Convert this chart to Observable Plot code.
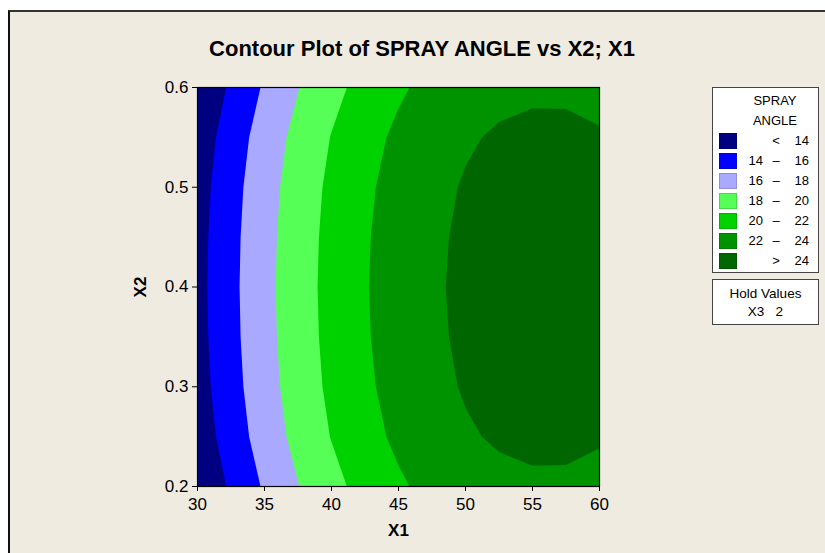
<!DOCTYPE html>
<html>
<head>
<meta charset="utf-8">
<script src="https://cdn.jsdelivr.net/npm/d3@7"></script>
<script src="https://cdn.jsdelivr.net/npm/@observablehq/plot@0.6"></script>
<style>
  body { margin: 0; background: #ffffff; }
  #page { position: relative; width: 825px; height: 553px; overflow: hidden;
          font-family: "Liberation Sans", Arial, sans-serif; color: #000; }
  #panel { position: absolute; left: 8px; top: 10px; right: 0; bottom: 0;
           background: #EFEBE1; border-top: 2px solid #333; border-left: 2px solid #111; }
  #chart { position: absolute; left: 0; top: 0; }
  #title { position: absolute; left: 122px; width: 600px; top: 36px; text-align: center;
           font-weight: bold; font-size: 22px; }
  .box { position: absolute; background: #fff; border: 1px solid #444; box-sizing: border-box; }
  .lt { position: absolute; font-size: 13px; line-height: 16px; white-space: nowrap; }
  .sw { position: absolute; width: 18px; height: 16px; box-sizing: border-box; }
</style>
</head>
<body>
<div id="page">
  <div id="panel"></div>
  <div id="chart"></div>
  <div id="title"></div>
  <div id="legend"></div>
</div>
<script>
// ---- data ----
const titleText = "Contour Plot of SPRAY ANGLE vs X2; X1";
const xLabel = "X1";
const yLabel = "X2";
const x1Values = [30, 32.5, 35, 37.5, 40, 42.5, 45, 47.5, 50, 52.5, 55, 57.5, 60];
const x2Values = [0.2, 0.25, 0.3, 0.35, 0.4, 0.45, 0.5, 0.55, 0.6];
// estimated SPRAY ANGLE at each (X1, X2) grid point, one row per X2 value
const sprayAngle = [
  [12.17, 14.31, 16.23, 17.93, 19.42, 20.68, 21.73, 22.55, 23.16, 23.55, 23.73, 23.72, 23.50],
  [12.82, 14.96, 16.88, 18.58, 20.07, 21.33, 22.38, 23.20, 23.81, 24.20, 24.38, 24.37, 24.15],
  [13.15, 15.29, 17.21, 18.91, 20.40, 21.66, 22.71, 23.53, 24.14, 24.53, 24.71, 24.70, 24.48],
  [13.31, 15.45, 17.37, 19.07, 20.56, 21.82, 22.87, 23.69, 24.30, 24.69, 24.87, 24.86, 24.64],
  [13.37, 15.51, 17.43, 19.13, 20.62, 21.88, 22.93, 23.75, 24.36, 24.75, 24.93, 24.92, 24.70],
  [13.31, 15.45, 17.37, 19.07, 20.56, 21.82, 22.87, 23.69, 24.30, 24.69, 24.87, 24.86, 24.64],
  [13.15, 15.29, 17.21, 18.91, 20.40, 21.66, 22.71, 23.53, 24.14, 24.53, 24.71, 24.70, 24.48],
  [12.82, 14.96, 16.88, 18.58, 20.07, 21.33, 22.38, 23.20, 23.81, 24.20, 24.38, 24.37, 24.15],
  [12.17, 14.31, 16.23, 17.93, 19.42, 20.68, 21.73, 22.55, 23.16, 23.55, 23.73, 23.72, 23.50]
];
const levels = [14, 16, 18, 20, 22, 24];
const bandColors = ["#000080", "#0000FF", "#A9A9FF", "#55FF55", "#00D200", "#009300", "#006600"];
const xTicks = [30, 35, 40, 45, 50, 55, 60];
const yTicks = [0.2, 0.3, 0.4, 0.5, 0.6];
const legendTitle = ["SPRAY", "ANGLE"];
const holdTitle = "Hold Values";
const holdVariables = ["X3"];
const holdNumbers = [2];

// ---- build ----
const nx = x1Values.length, ny = x2Values.length;
const dx = (x1Values[nx - 1] - x1Values[0]) / (nx - 1);
const dy = (x2Values[ny - 1] - x2Values[0]) / (ny - 1);
const grid = sprayAngle.flat();
const allThresholds = [0, ...levels];

const chart = Plot.plot({
  width: 825,
  height: 553,
  marginLeft: 197,
  marginRight: 226,
  marginTop: 87,
  marginBottom: 67,
  style: { background: "transparent", fontFamily: "'Liberation Sans', Arial, sans-serif", color: "#000" },
  x: { domain: [30, 60] },
  y: { domain: [0.2, 0.6] },
  color: { type: "ordinal", domain: allThresholds, range: bandColors },
  marks: [
    Plot.frame({ fill: bandColors[0] }),
    Plot.contour(grid, {
      width: nx, height: ny,
      x1: x1Values[0] - dx / 2, x2: x1Values[nx - 1] + dx / 2,
      y1: x2Values[0] - dy / 2, y2: x2Values[ny - 1] + dy / 2,
      fill: Plot.identity,
      thresholds: allThresholds,
      clip: true
    }),
    Plot.frame({ stroke: "#000", strokeWidth: 1.2 }),
    Plot.axisX({ ticks: xTicks, tickSize: 5, tickPadding: 6, fontSize: 17, label: null, tickFormat: d => String(d) }),
    Plot.axisY({ ticks: yTicks, tickSize: 5, tickPadding: 4, fontSize: 17, label: null, tickFormat: d => d.toFixed(1) }),
    Plot.text([xLabel], { text: d => d, frameAnchor: "bottom", dy: 49, fontWeight: "bold", fontSize: 17, textAnchor: "middle" }),
    Plot.text([yLabel], { text: d => d, frameAnchor: "left", dx: -57, rotate: -90, fontWeight: "bold", fontSize: 17, textAnchor: "middle" })
  ]
});
document.getElementById("chart").appendChild(chart);
document.getElementById("title").textContent = titleText;

// ---- legend ----
const legend = document.getElementById("legend");
function add(html) { legend.insertAdjacentHTML("beforeend", html); }
add(`<div class="box" style="left:712px;top:87px;width:107px;height:186px"></div>`);
legendTitle.forEach((t, i) => add(`<div class="lt" style="left:735px;width:80px;text-align:center;top:${93 + i * 20}px">${t}</div>`));
bandColors.forEach((c, i) => {
  const cy = 141 + i * 20;
  const first = i === 0, last = i === levels.length;
  const lo = first || last ? "" : String(levels[i - 1]);
  const mid = first ? "&lt;" : last ? "&gt;" : "–";
  const hi = last ? String(levels[i - 1]) : String(levels[i]);
  add(`<div class="sw" style="left:719px;top:${cy - 8}px;background:${c};border:1px solid rgba(0,0,0,0.15)"></div>`);
  add(`<div class="lt" style="left:740px;width:23px;text-align:right;top:${cy - 8}px">${lo}</div>`);
  add(`<div class="lt" style="left:767px;width:18px;text-align:center;top:${cy - 8}px">${mid}</div>`);
  add(`<div class="lt" style="left:785px;width:24px;text-align:right;top:${cy - 8}px">${hi}</div>`);
});
add(`<div class="box" style="left:712px;top:279px;width:107px;height:46px"></div>`);
add(`<div class="lt" style="left:712px;width:107px;text-align:center;top:286px;font-size:13.5px">${holdTitle}</div>`);
holdVariables.forEach((v, i) => add(`<div class="lt" style="left:712px;width:107px;text-align:center;top:${304 + i * 18}px;font-size:13.5px">${v}&nbsp;&nbsp;&nbsp;${holdNumbers[i]}</div>`));
</script>
</body>
</html>
